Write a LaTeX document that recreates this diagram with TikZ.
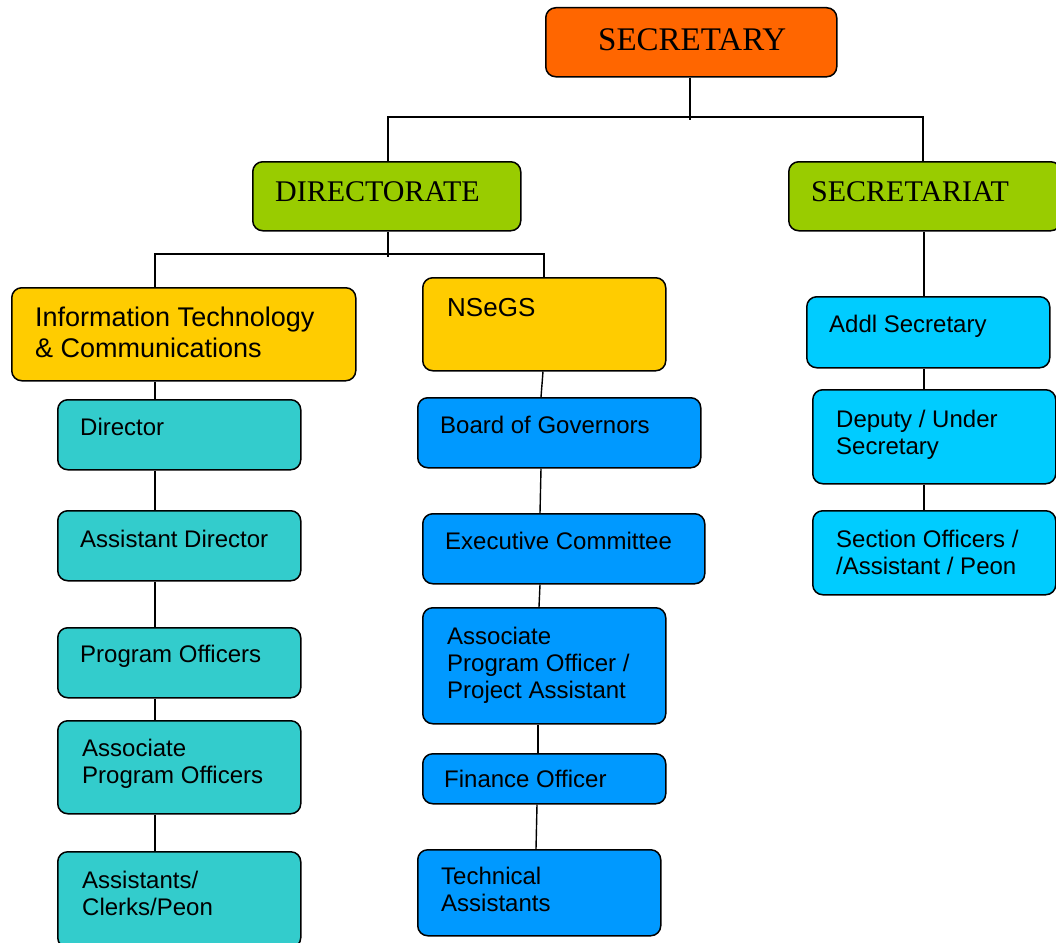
\documentclass[tikz,border=0pt]{standalone}
\usepackage{fontspec}
\setmainfont{Liberation Serif}
\setsansfont{Liberation Sans}
\definecolor{corange}{HTML}{FF6600}
\definecolor{cgreen}{HTML}{99CC00}
\definecolor{cyellow}{HTML}{FFCC00}
\definecolor{cteal}{HTML}{33CCCC}
\definecolor{cblue}{HTML}{0099FF}
\definecolor{ccyan}{HTML}{00CCFF}
\begin{document}
\begin{tikzpicture}[x=1pt,y=-1pt,
  box/.style={draw=black, line width=1.5pt, rounded corners=10pt, inner sep=0pt, anchor=north west},
  serif/.style={font=\fontsize{30}{34}\selectfont\rmfamily, inner sep=0pt, anchor=base west},
  lab/.style={font=\fontsize{24}{27}\selectfont\sffamily, inner sep=0pt, align=left},
  lab1/.style={lab, anchor=base west},
  labm/.style={lab, anchor=north west},
  conn/.style={draw=black, line width=1.4pt}]
\clip (0,0) rectangle (1056,942);
% boxes
\node[box, fill=corange, minimum width=291pt, minimum height=69pt] (sec) at (545,7) {};
\node[box, fill=cgreen, minimum width=268pt, minimum height=69pt] (dir) at (252,161) {};
\node[box, fill=cgreen, minimum width=272pt, minimum height=69pt] (secr) at (788,161) {};
\node[box, fill=cyellow, minimum width=344pt, minimum height=93pt] (itc) at (11,287) {};
\node[box, fill=cyellow, minimum width=243pt, minimum height=93pt] (nsegs) at (422,277) {};
\node[box, fill=cteal, minimum width=243pt, minimum height=70pt] (director) at (57,399) {};
\node[box, fill=cteal, minimum width=243pt, minimum height=70pt] (asstdir) at (57,510) {};
\node[box, fill=cteal, minimum width=243pt, minimum height=70pt] (progoff) at (57,627) {};
\node[box, fill=cteal, minimum width=243pt, minimum height=93pt] (assocpo) at (57,720) {};
\node[box, fill=cteal, minimum width=243pt, minimum height=96pt] (clerks) at (57,851) {};
\node[box, fill=cblue, minimum width=283pt, minimum height=70pt] (board) at (417,397) {};
\node[box, fill=cblue, minimum width=282pt, minimum height=70pt] (exec) at (422,513) {};
\node[box, fill=cblue, minimum width=243pt, minimum height=116pt] (apo) at (422,607) {};
\node[box, fill=cblue, minimum width=243pt, minimum height=50pt] (fin) at (422,753) {};
\node[box, fill=cblue, minimum width=243pt, minimum height=86pt] (tech) at (417,849) {};
\node[box, fill=ccyan, minimum width=243pt, minimum height=71pt] (addl) at (806,296) {};
\node[box, fill=ccyan, minimum width=243pt, minimum height=94pt] (deputy) at (812,389) {};
\node[box, fill=ccyan, minimum width=243pt, minimum height=84pt] (section) at (812,510) {};
% texts
\node[serif, font=\fontsize{33}{37}\selectfont\rmfamily] (secT) at (598,51) {SECRETARY};
\node[serif] (dirT) at (275,201) {DIRECTORATE};
\node[serif] (secrT) at (811,201) {SECRETARIAT};
\node[labm, font=\fontsize{27}{31}\selectfont\sffamily] (itcT) at (35,307) {Information Technology\\\& Communications};
\node[lab1, font=\fontsize{26}{30}\selectfont\sffamily] (nsegsT) at (447,316) {NSeGS};
\node[lab1] (directorT) at (80,435) {Director};
\node[lab1] (asstdirT) at (80,547) {Assistant Director};
\node[lab1] (progoffT) at (80,662) {Program Officers};
\node[labm] (assocpoT) at (82,739) {Associate\\Program Officers};
\node[labm] (clerksT) at (82,871) {Assistants/\\Clerks/Peon};
\node[lab1] (boardT) at (440,433) {Board of Governors};
\node[lab1] (execT) at (445,549) {Executive Committee};
\node[labm] (apoT) at (447,627) {Associate\\Program Officer /\\Project Assistant};
\node[lab1] (finT) at (444,787) {Finance Officer};
\node[labm] (techT) at (441,867) {Technical\\Assistants};
\node[lab1] (addlT) at (829,332) {Addl Secretary};
\node[labm] (deputyT) at (836,410) {Deputy / Under\\Secretary};
\node[labm] (sectionT) at (836,530) {Section Officers /\\/Assistant / Peon};
% connectors
\coordinate (j1) at (690,117);
\coordinate (j1e) at (690,120);
\coordinate (lj) at (388,117);
\coordinate (rj) at (923,117);
\draw[conn] (sec.south -| j1) -- (j1e);
\draw[conn] (lj |- dir.north) -- (lj) -- (rj) -- (rj |- secr.north);
\coordinate (j2) at (388,254);
\coordinate (j2e) at (388,257);
\coordinate (l2) at (155,254);
\coordinate (r2) at (544,254);
\draw[conn] (dir.south -| j2) -- (j2e);
\draw[conn] (l2 |- itc.north) -- (l2) -- (r2) -- (r2 |- nsegs.north);
% IT&C column
\coordinate (c1) at (155,0);
\draw[conn] (itc.south -| c1) -- (director.north -| c1);
\draw[conn] (director.south -| c1) -- (asstdir.north -| c1);
\draw[conn] (asstdir.south -| c1) -- (progoff.north -| c1);
\draw[conn] (progoff.south -| c1) -- (assocpo.north -| c1);
\draw[conn] (assocpo.south -| c1) -- (clerks.north -| c1);
% NSeGS column
\coordinate (n1) at (543,0);
\coordinate (n2) at (541,0);
\coordinate (n3) at (540,0);
\coordinate (n4) at (539,0);
\coordinate (n5) at (538,0);
\coordinate (n6) at (537,0);
\coordinate (n7) at (536,0);
\draw[conn] (nsegs.south -| n1) -- (board.north -| n2);
\draw[conn] (board.south -| n2) -- (exec.north -| n3);
\draw[conn] (exec.south -| n3) -- (apo.north -| n4);
\draw[conn] (apo.south -| n5) -- (fin.north -| n5);
\draw[conn] (fin.south -| n6) -- (tech.north -| n7);
% Secretariat column
\coordinate (c3) at (924,0);
\draw[conn] (secr.south -| c3) -- (addl.north -| c3);
\draw[conn] (addl.south -| c3) -- (deputy.north -| c3);
\draw[conn] (deputy.south -| c3) -- (section.north -| c3);
\end{tikzpicture}
\end{document}
